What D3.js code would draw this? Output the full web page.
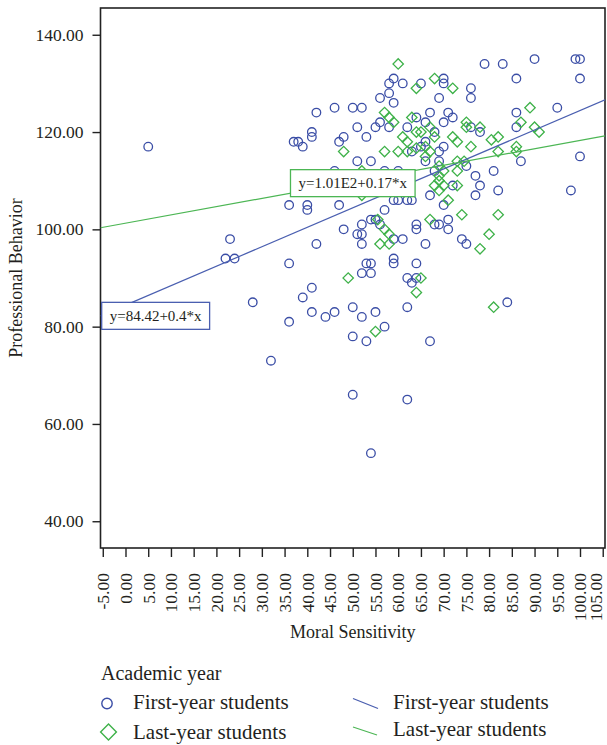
<!DOCTYPE html>
<html><head><meta charset="utf-8">
<script src="https://cdn.jsdelivr.net/npm/d3@7"></script>
<style>
body{margin:0;background:#fff;}
svg{display:block;font-family:"Liberation Serif","Times New Roman",serif;}
</style>
</head><body>
<svg id="chart" width="607" height="745"></svg>
<script>
// ---- data ----
const firstYear = [
  [5,117],[22,94],[24,94],[23,98],[28,85],[32,73],[36,105],[36,93],[36,81],[37,118],
  [38,118],[39,117],[39,86],[40,105],[40,104],[41,120],[41,119],[41,88],[41,83],[42,124],
  [42,97],[44,82],[46,125],[46,83],[46,112],[47,118],[48,119],[47,105],[48,100],[50,125],
  [52,125],[50,84],[50,78],[50,66],[51,121],[51,114],[51,99],[52,99],[52,97],[52,101],
  [52,82],[52,91],[53,119],[53,93],[53,77],[54,93],[54,91],[54,114],[54,102],[54,54],
  [55,121],[55,83],[55,102],[56,122],[56,101],[56,127],[57,104],[57,112],[57,80],[58,121],
  [58,128],[58,130],[59,131],[59,126],[59,106],[59,98],[59,94],[59,93],[60,112],[60,106],
  [61,130],[61,98],[62,121],[62,106],[62,90],[62,84],[62,65],[63,116],[63,106],[63,89],
  [64,123],[64,101],[64,100],[64,93],[64,90],[65,130],[65,117],[66,122],[66,118],[66,114],
  [66,97],[67,124],[67,107],[67,77],[68,120],[68,112],[68,101],[69,127],[69,116],[69,114],
  [69,101],[70,131],[70,130],[70,122],[70,117],[70,105],[71,124],[71,102],[71,100],[72,123],
  [72,109],[74,98],[75,113],[75,97],[76,129],[76,127],[76,121],[77,111],[77,107],[78,120],
  [78,109],[79,134],[81,112],[82,108],[83,134],[84,85],[86,131],[86,124],[86,121],[87,114],
  [90,135],[95,125],[98,108],[99,135],[100,135],[100,131],[100,115]
];
const lastYear = [
  [48,116],[49,90],[52,112],[52,107],[55,79],[55.5,102],[56,97],[57,124],[57,116],[57,100],
  [58,123],[58,99],[58,97],[59,122],[60,134],[60,116],[61,119],[62,116],[63,123],[64,129],
  [64,87],[65,90],[64,116.7],[65,120],[66,117],[67,102],[68,131],[67,116],[68,119],[69,113],
  [69,111],[69,110],[68,109],[69,108],[70,109],[70,112],[71,106],[72,129],[72,119],[73,114],
  [73,118],[73,109],[73,112],[74,103],[74.5,114],[75,122],[75,121],[76,117],[78,121],[78,96],
  [80,99],[80.5,118.4],[81,84],[82,119],[82,116],[82,103],[86,117],[86,116],[87,122],[89,125],
  [90,121],[91,120],[62,118],[64,120],[66,115],[67,121]
];
const xTickValues = d3.range(-5, 105.001, 5);
const yTickValues = [40, 60, 80, 100, 120, 140];
const seriesNames = ["First-year students", "Last-year students"];
const fitIntercepts = [84.42, 101.27];
const fitSlopes = [0.4, 0.17];
const fitLabels = ["y=84.42+0.4*x", "y=1.01E2+0.17*x"];
const fitLabelAnchorX = [-5.5, 36.3]; // data x where each equation box sits

// ---- styles ----
const blue = "#3b4ea6", green = "#3fb24a";
const lineColors = ["#4a5fb0", "#4cb654"];
const textColor = "#231f20";
const fmt = v => d3.format(".2f")(v).replace("\u2212", "-");

const svg = d3.select("#chart");
const L = 100.5, R = 605, T = 8, B = 548;
const x = d3.scaleLinear().domain([-5.5, 105.5]).range([L, R]);
const y = d3.scaleLinear().domain([34.5, 145.5]).range([B, T]);

// frame
svg.append("rect").attr("x", L).attr("y", T).attr("width", R - L).attr("height", B - T)
  .attr("fill", "none").attr("stroke", "#222").attr("stroke-width", 1.6);

// y axis
const yAxis = svg.append("g").attr("transform", `translate(${L},0)`)
  .call(d3.axisLeft(y).tickValues(yTickValues).tickSize(8).tickPadding(9).tickFormat(fmt));
yAxis.select(".domain").remove();
yAxis.selectAll(".tick line").attr("stroke", "#222").attr("stroke-width", 1.4);
yAxis.selectAll(".tick text").attr("font-family", "Liberation Serif").attr("font-size", 17.5).attr("fill", textColor);

// x axis
const xAxis = svg.append("g").attr("transform", `translate(0,${B})`)
  .call(d3.axisBottom(x).tickValues(xTickValues).tickSize(9).tickFormat(fmt));
xAxis.select(".domain").remove();
xAxis.selectAll(".tick line").attr("stroke", "#222").attr("stroke-width", 1.4);
xAxis.selectAll(".tick text")
  .attr("font-family", "Liberation Serif").attr("font-size", 17.5).attr("fill", textColor)
  .attr("text-anchor", "end").attr("transform", "rotate(-90)")
  .attr("x", -25).attr("y", 0)
  .attr("dy", (d, i, n) => i === n.length - 1 ? "-0.06em" : "0.33em");

// axis titles
svg.append("text").attr("x", (L + R) / 2).attr("y", 638).attr("text-anchor", "middle")
  .attr("font-size", 18).attr("fill", textColor).text("Moral Sensitivity");
svg.append("text").attr("transform", `translate(22,${(T + B) / 2}) rotate(-90)`).attr("text-anchor", "middle")
  .attr("font-size", 18).attr("fill", textColor).text("Professional Behavior");

// points
svg.append("clipPath").attr("id", "clip").append("rect")
  .attr("x", L).attr("y", T).attr("width", R - L).attr("height", B - T);
const plot = svg.append("g").attr("clip-path", "url(#clip)");
plot.append("g").selectAll("circle").data(firstYear).join("circle")
  .attr("cx", d => x(d[0])).attr("cy", d => y(d[1])).attr("r", 4.3)
  .attr("fill", "none").attr("stroke", blue).attr("stroke-width", 1.3);
plot.append("g").selectAll("path").data(lastYear).join("path")
  .attr("transform", d => `translate(${x(d[0])},${y(d[1])}) rotate(45)`)
  .attr("d", d3.symbol().type(d3.symbolSquare).size(54))
  .attr("fill", "none").attr("stroke", green).attr("stroke-width", 1.3);

// fit lines
const xd = x.domain();
seriesNames.forEach((n, i) => {
  const f = v => fitIntercepts[i] + fitSlopes[i] * v;
  plot.append("line").attr("x1", x(xd[0])).attr("y1", y(f(xd[0])))
    .attr("x2", x(xd[1])).attr("y2", y(f(xd[1])))
    .attr("stroke", lineColors[i]).attr("stroke-width", 1.2);
});

// equation boxes
seriesNames.forEach((n, i) => {
  const ax = fitLabelAnchorX[i];
  const ly = y(fitIntercepts[i] + fitSlopes[i] * ax);
  const g = svg.append("g");
  const t = g.append("text").attr("font-size", 15).attr("fill", textColor).text(fitLabels[i]);
  const w = t.node().getComputedTextLength();
  const bw = w + 16, bh = 27;
  const bx = x(ax) + (i === 0 ? 1.2 : 0);
  const by = i === 0 ? ly - bh / 2 : ly - bh + 3.5;
  g.insert("rect", "text").attr("x", bx).attr("y", by).attr("width", bw).attr("height", bh)
    .attr("fill", "#fff").attr("stroke", lineColors[i]).attr("stroke-width", 1.3);
  t.attr("x", bx + 8).attr("y", by + bh / 2 + 5);
});

// legend
svg.append("text").attr("x", 101).attr("y", 680).attr("font-size", 20).attr("fill", textColor).text("Academic year");
const lg = svg.append("g");
lg.append("circle").attr("cx", 107).attr("cy", 703.5).attr("r", 5.2)
  .attr("fill", "none").attr("stroke", blue).attr("stroke-width", 1.4);
lg.append("path").attr("transform", "translate(108.5,732) rotate(45)")
  .attr("d", d3.symbol().type(d3.symbolSquare).size(125))
  .attr("fill", "none").attr("stroke", green).attr("stroke-width", 1.4);
lg.append("text").attr("x", 133).attr("y", 709).attr("font-size", 21).attr("fill", textColor).text(seriesNames[0]);
lg.append("text").attr("x", 133).attr("y", 739).attr("font-size", 21).attr("fill", textColor).text(seriesNames[1]);
lg.append("line").attr("x1", 353).attr("y1", 698.5).attr("x2", 378).attr("y2", 708.5).attr("stroke", lineColors[0]).attr("stroke-width", 1.3);
lg.append("line").attr("x1", 353).attr("y1", 727).attr("x2", 377).attr("y2", 735).attr("stroke", lineColors[1]).attr("stroke-width", 1.3);
lg.append("text").attr("x", 393).attr("y", 709).attr("font-size", 21).attr("fill", textColor).text(seriesNames[0]);
lg.append("text").attr("x", 393).attr("y", 736).attr("font-size", 21).attr("fill", textColor).text(seriesNames[1]);
</script>
</body></html>
